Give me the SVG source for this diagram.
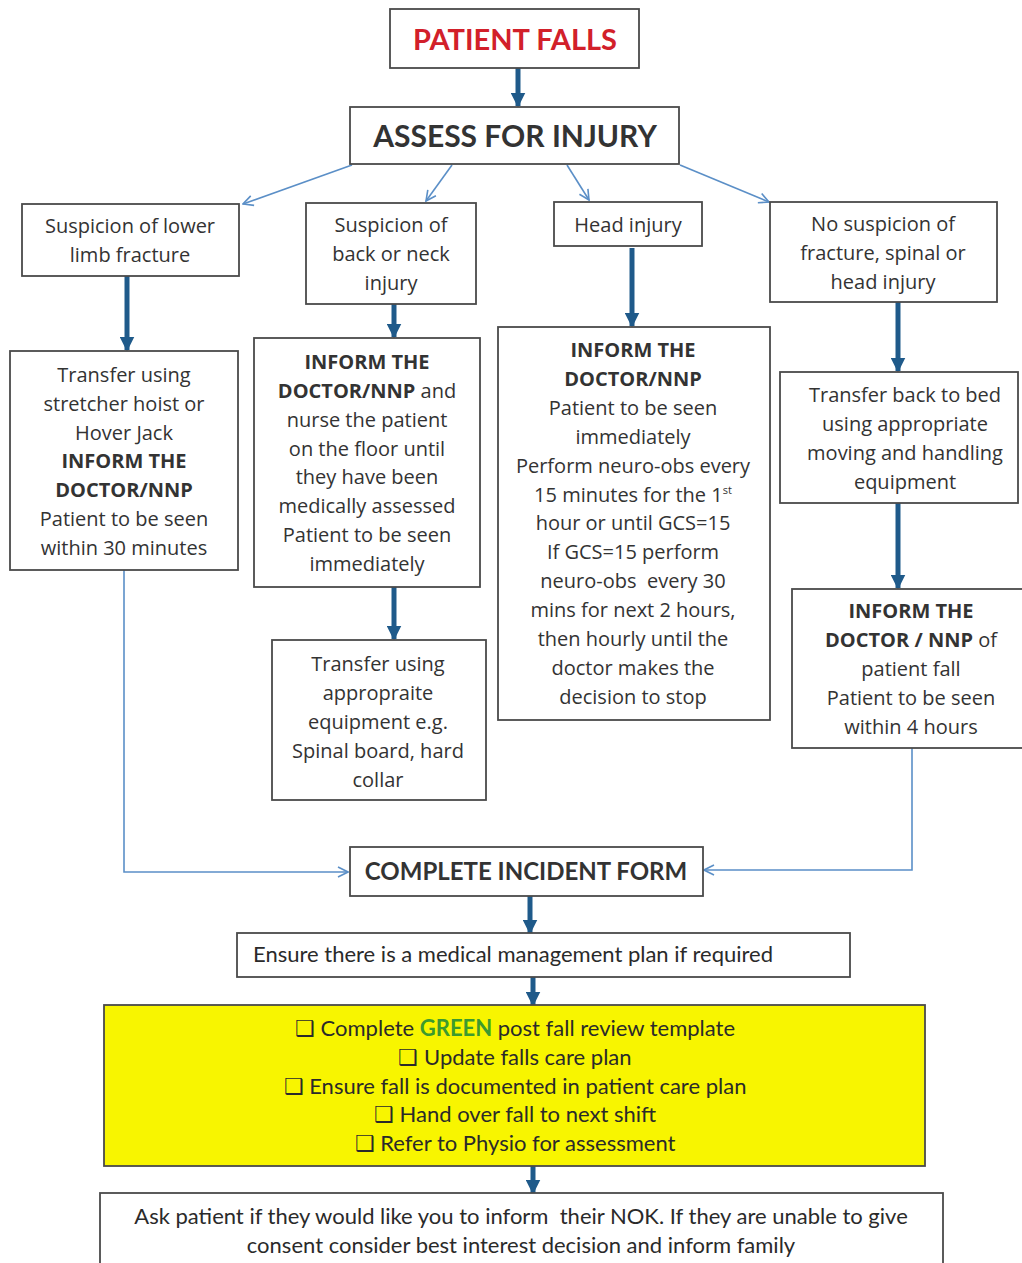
<svg xmlns="http://www.w3.org/2000/svg" width="1022" height="1263" viewBox="0 0 1022 1263">
<style>
.box{fill:#fff;stroke:#4a4a4a;stroke-width:1.8}
.t{font-family:"Open Sans",Lato,"Liberation Sans",sans-serif;font-size:20px;fill:#333;text-anchor:middle}
.b{font-weight:bold}
.c{font-family:Lato,"Open Sans","Liberation Sans",sans-serif;font-size:22px;fill:#2a2a2a;text-anchor:middle}
.thick{stroke:#1f5a8a;stroke-width:5;fill:none}
.thin{stroke:#5b8fc7;stroke-width:1.6;fill:none}
</style>
<defs>
<marker id="ah" viewBox="0 0 10 10" refX="9" refY="5" markerWidth="3" markerHeight="3" orient="auto"><path d="M0,0 L10,5 L0,10 z" fill="#1f5a8a"/></marker>
<marker id="open" viewBox="0 0 12 12" refX="11" refY="6" markerWidth="12" markerHeight="12" markerUnits="userSpaceOnUse" orient="auto"><path d="M1,1 L11,6 L1,11" fill="none" stroke="#5b8fc7" stroke-width="1.6"/></marker>
</defs>
<rect width="1022" height="1263" fill="#fff"/>
<g id="connectors">
<line class="thick" x1="518" y1="68" x2="518" y2="106" marker-end="url(#ah)"/>
<line class="thin" x1="352" y1="165" x2="243" y2="204" marker-end="url(#open)"/>
<line class="thin" x1="452" y1="165" x2="426" y2="201" marker-end="url(#open)"/>
<line class="thin" x1="567" y1="165" x2="589" y2="200" marker-end="url(#open)"/>
<line class="thin" x1="680" y1="165" x2="769" y2="202" marker-end="url(#open)"/>
<line class="thick" x1="127" y1="276" x2="127" y2="350" marker-end="url(#ah)"/>
<line class="thick" x1="394" y1="304" x2="394" y2="337" marker-end="url(#ah)"/>
<line class="thick" x1="632" y1="248" x2="632" y2="326" marker-end="url(#ah)"/>
<line class="thick" x1="898" y1="302" x2="898" y2="371" marker-end="url(#ah)"/>
<line class="thick" x1="394" y1="587" x2="394" y2="639" marker-end="url(#ah)"/>
<line class="thick" x1="898" y1="503" x2="898" y2="588" marker-end="url(#ah)"/>
<polyline class="thin" points="124,570 124,872 348,872" marker-end="url(#open)"/>
<polyline class="thin" points="912,748 912,870 704,870" marker-end="url(#open)"/>
<line class="thick" x1="530" y1="896" x2="530" y2="933" marker-end="url(#ah)"/>
<line class="thick" x1="533" y1="977" x2="533" y2="1005" marker-end="url(#ah)"/>
<line class="thick" x1="533" y1="1166" x2="533" y2="1193" marker-end="url(#ah)"/>
</g>
<g id="patient-falls">
<rect class="box" x="390" y="9" width="249" height="59"/>
<text class="t b" x="515" y="50" style="font-size:29px;fill:#d2202a;font-family:Lato,sans-serif">PATIENT FALLS</text>
</g>
<g id="assess">
<rect class="box" x="350" y="107" width="329" height="57"/>
<text class="t b" x="515" y="147" style="font-size:30px;font-family:Lato,sans-serif">ASSESS FOR INJURY</text>
</g>
<g id="lower-limb">
<rect class="box" x="22" y="204" width="217" height="72"/>
<text class="t" x="130" y="233">Suspicion of lower</text>
<text class="t" x="130" y="262">limb fracture</text>
</g>
<g id="back-neck">
<rect class="box" x="306" y="203" width="170" height="101"/>
<text class="t" x="391" y="232">Suspicion of</text>
<text class="t" x="391" y="261">back or neck</text>
<text class="t" x="391" y="290">injury</text>
</g>
<g id="head-injury">
<rect class="box" x="554" y="202" width="148" height="44"/>
<text class="t" x="628" y="232">Head injury</text>
</g>
<g id="no-suspicion">
<rect class="box" x="770" y="202" width="227" height="100"/>
<text class="t" x="883" y="231">No suspicion of</text>
<text class="t" x="883" y="260">fracture, spinal or</text>
<text class="t" x="883" y="289">head injury</text>
</g>
<g id="stretcher">
<rect class="box" x="10" y="351" width="228" height="219"/>
<text class="t" x="124" y="382">Transfer using</text>
<text class="t" x="124" y="411">stretcher hoist or</text>
<text class="t" x="124" y="440">Hover Jack</text>
<text class="t b" x="124" y="468">INFORM THE</text>
<text class="t b" x="124" y="497">DOCTOR/NNP</text>
<text class="t" x="124" y="526">Patient to be seen</text>
<text class="t" x="124" y="555">within 30 minutes</text>
</g>
<g id="nurse-floor">
<rect class="box" x="254" y="338" width="226" height="249"/>
<text class="t b" x="367" y="369">INFORM THE</text>
<text class="t" x="367" y="398"><tspan class="b">DOCTOR/NNP</tspan> and</text>
<text class="t" x="367" y="427">nurse the patient</text>
<text class="t" x="367" y="456">on the floor until</text>
<text class="t" x="367" y="484">they have been</text>
<text class="t" x="367" y="513">medically assessed</text>
<text class="t" x="367" y="542">Patient to be seen</text>
<text class="t" x="367" y="571">immediately</text>
</g>
<g id="neuro-obs">
<rect class="box" x="498" y="327" width="272" height="393"/>
<text class="t b" x="633" y="357">INFORM THE</text>
<text class="t b" x="633" y="386">DOCTOR/NNP</text>
<text class="t" x="633" y="415">Patient to be seen</text>
<text class="t" x="633" y="444">immediately</text>
<text class="t" x="633" y="473">Perform neuro-obs every</text>
<text class="t" x="633" y="502">15 minutes for the 1<tspan dy="-8" style="font-size:11px">st</tspan></text>
<text class="t" x="633" y="530">hour or until GCS=15</text>
<text class="t" x="633" y="559">If GCS=15 perform</text>
<text class="t" x="633" y="588" xml:space="preserve">neuro-obs  every 30</text>
<text class="t" x="633" y="617">mins for next 2 hours,</text>
<text class="t" x="633" y="646">then hourly until the</text>
<text class="t" x="633" y="675">doctor makes the</text>
<text class="t" x="633" y="704">decision to stop</text>
</g>
<g id="back-to-bed">
<rect class="box" x="780" y="372" width="238" height="131"/>
<text class="t" x="905" y="402">Transfer back to bed</text>
<text class="t" x="905" y="431">using appropriate</text>
<text class="t" x="905" y="460">moving and handling</text>
<text class="t" x="905" y="489">equipment</text>
</g>
<g id="spinal-board">
<rect class="box" x="272" y="640" width="214" height="160"/>
<text class="t" x="378" y="671">Transfer using</text>
<text class="t" x="378" y="700">appropraite</text>
<text class="t" x="378" y="729">equipment e.g.</text>
<text class="t" x="378" y="758">Spinal board, hard</text>
<text class="t" x="378" y="787">collar</text>
</g>
<g id="inform-4h">
<rect class="box" x="792" y="589" width="236" height="159"/>
<text class="t b" x="911" y="618">INFORM THE</text>
<text class="t" x="911" y="647"><tspan class="b">DOCTOR / NNP</tspan> of</text>
<text class="t" x="911" y="676">patient fall</text>
<text class="t" x="911" y="705">Patient to be seen</text>
<text class="t" x="911" y="734">within 4 hours</text>
</g>
<g id="incident-form">
<rect class="box" x="350" y="847" width="353" height="49"/>
<text class="t b" x="526" y="880" style="font-size:24px;font-family:Lato,sans-serif">COMPLETE INCIDENT FORM</text>
</g>
<g id="management-plan">
<rect class="box" x="237" y="933" width="613" height="44"/>
<text class="c" x="253" y="962" style="text-anchor:start">Ensure there is a medical management plan if required</text>
</g>
<g id="checklist">
<rect x="104" y="1005" width="821" height="161" fill="#f8f500" stroke="#4a4a4a" stroke-width="1.8"/>
<text class="c" x="515" y="1036">❑ Complete <tspan class="b" style="fill:#3c9a2e">GREEN</tspan> post fall review template</text>
<text class="c" x="515" y="1065">❑ Update falls care plan</text>
<text class="c" x="515" y="1094">❑ Ensure fall is documented in patient care plan</text>
<text class="c" x="515" y="1122">❑ Hand over fall to next shift</text>
<text class="c" x="515" y="1151">❑ Refer to Physio for assessment</text>
</g>
<g id="inform-nok">
<rect class="box" x="100" y="1193" width="843" height="80"/>
<text class="c" x="521" y="1224" xml:space="preserve">Ask patient if they would like you to inform  their NOK. If they are unable to give</text>
<text class="c" x="521" y="1253">consent consider best interest decision and inform family</text>
</g>
</svg>
